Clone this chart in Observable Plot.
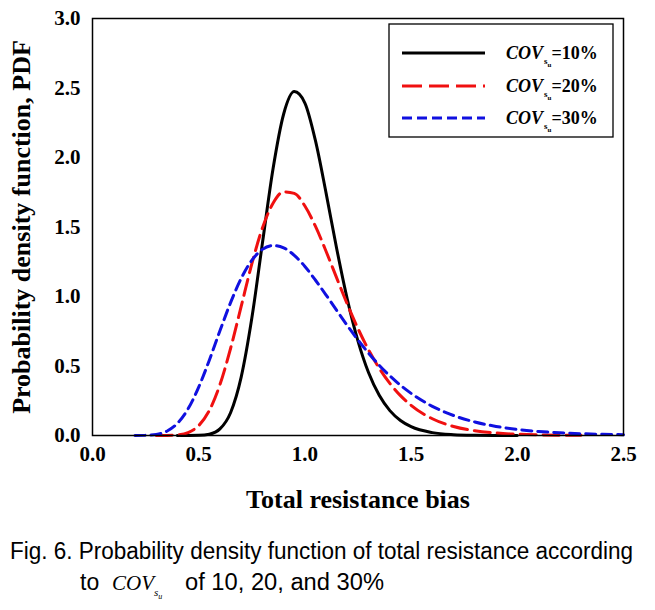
<!DOCTYPE html>
<html><head><meta charset="utf-8">
<script src="https://cdn.jsdelivr.net/npm/d3@7"></script>
<script src="https://cdn.jsdelivr.net/npm/@observablehq/plot@0.6"></script>
<style>
body{margin:0;background:#fff}
#chart svg, #cap{display:block}
</style>
</head><body>
<div id="chart"></div>
<svg id="cap" width="655" height="85"></svg>
<script>
const xTicks = [0, 0.5, 1.0, 1.5, 2.0, 2.5];
const yTicks = [0, 0.5, 1.0, 1.5, 2.0, 2.5, 3.0];
const seriesNames = ["=10%", "=20%", "=30%"];

const cov10X = [0.4,0.45,0.5,0.55,0.6,0.65,0.7,0.75,0.8,0.85,0.9,0.95,1.0,1.05,1.1,1.15,1.2,1.25,1.3,1.35,1.4,1.45,1.5,1.6,1.7,1.8,1.9,2.0];
const cov10Y = [0,0.0001,0.0012,0.0095,0.0475,0.164,0.420,0.843,1.384,1.919,2.313,2.474,2.392,2.119,1.742,1.342,0.978,0.679,0.451,0.289,0.179,0.108,0.0634,0.0205,0.0062,0.0018,0.0005,0.0001];

const cov20X = [0.3,0.35,0.4,0.45,0.5,0.55,0.6,0.65,0.7,0.75,0.8,0.85,0.9,0.95,1.0,1.05,1.1,1.15,1.2,1.25,1.3,1.35,1.4,1.45,1.5,1.6,1.7,1.8,1.9,2.0,2.1,2.2,2.3];
const cov20Y = [0,0.0006,0.0044,0.0214,0.0714,0.180,0.366,0.626,0.929,1.234,1.493,1.671,1.753,1.742,1.651,1.504,1.324,1.132,0.943,0.769,0.615,0.484,0.375,0.287,0.217,0.1206,0.0651,0.0344,0.0178,0.0091,0.0046,0.0023,0.0011];

const cov30X = [0.2,0.25,0.3,0.35,0.4,0.45,0.5,0.55,0.6,0.65,0.7,0.75,0.8,0.85,0.9,0.95,1.0,1.05,1.1,1.15,1.2,1.25,1.3,1.35,1.4,1.45,1.5,1.6,1.7,1.8,1.9,2.0,2.1,2.2,2.3,2.4,2.5];
const cov30Y = [0.0001,0.001,0.0074,0.0306,0.0877,0.192,0.348,0.542,0.753,0.956,1.130,1.260,1.339,1.367,1.350,1.296,1.216,1.117,1.010,0.899,0.790,0.687,0.592,0.505,0.429,0.361,0.303,0.210,0.1438,0.0973,0.0654,0.0437,0.0291,0.0194,0.0129,0.0085,0.0057];

const xTitle = "Total resistance bias";
const yTitle = "Probability density function, PDF";

const rows = (xs, ys) => xs.map((x, i) => ({x, y: ys[i]}));
const r10 = rows(cov10X, cov10Y), r20 = rows(cov20X, cov20Y), r30 = rows(cov30X, cov30Y);

const serif = "'Liberation Serif','Times New Roman',serif";
const fmt = d3.format(".1f");

const chart = Plot.plot({
  width: 655, height: 525,
  marginLeft: 92, marginRight: 32, marginTop: 18, marginBottom: 90,
  style: {fontFamily: serif, background: "#fff", color: "#000"},
  x: {domain: [0, 2.5], axis: null},
  y: {domain: [0, 3], axis: null},
  marks: [
    Plot.text(xTicks, {x: d => d, frameAnchor: "bottom", dy: 25, text: d => fmt(d), textAnchor: "middle", fontSize: 21, fontWeight: "bold", fill: "#000"}),
    Plot.text(yTicks, {y: d => d, frameAnchor: "left", dx: -12, text: d => fmt(d), textAnchor: "end", fontSize: 21, fontWeight: "bold", fill: "#000"}),
    Plot.line(r10, {x: "x", y: "y", stroke: "#000", strokeWidth: 3, curve: "monotone-x"}),
    Plot.line(r20, {x: "x", y: "y", stroke: "#f01010", strokeWidth: 3, strokeDasharray: "16,7", curve: "monotone-x"}),
    Plot.line(r30, {x: "x", y: "y", stroke: "#1010e0", strokeWidth: 3, strokeDasharray: "10,6", curve: "monotone-x"}),
    Plot.frame({stroke: "#000", strokeWidth: 1.5}),
    Plot.text([xTitle], {text: d => d, frameAnchor: "bottom", dy: 72, textAnchor: "middle", fontSize: 26, fontWeight: "bold", fill: "#000"}),
    Plot.text([yTitle], {text: d => d, frameAnchor: "left", dx: -71, rotate: -90, textAnchor: "middle", fontSize: 26, fontWeight: "bold", fill: "#000"})
  ]
});
document.getElementById("chart").appendChild(chart);

// legend
const svg = d3.select(chart);
const lg = svg.append("g").attr("text-anchor", "start");
lg.append("rect").attr("x", 389).attr("y", 24).attr("width", 224).attr("height", 113)
  .attr("fill", "#fff").attr("stroke", "#000").attr("stroke-width", 1.3);
const styles = [
  {stroke: "#000", dash: null},
  {stroke: "#f01010", dash: "20,7"},
  {stroke: "#1010e0", dash: "10,5"}
];
const rowsY = [53, 86, 118];
seriesNames.forEach((name, i) => {
  const y = rowsY[i];
  lg.append("line").attr("x1", 402).attr("x2", 485).attr("y1", y).attr("y2", y)
    .attr("stroke", styles[i].stroke).attr("stroke-width", 3)
    .attr("stroke-dasharray", styles[i].dash);
  const t = lg.append("text").attr("x", 506).attr("y", y + 6).attr("text-anchor", "start")
    .attr("font-family", serif).attr("font-weight", "bold").attr("font-size", 18).attr("fill", "#000");
  t.append("tspan").attr("font-style", "italic").text("COV");
  t.append("tspan").attr("font-size", 9).attr("dy", 5).attr("dx", 1).text("s");
  t.append("tspan").attr("font-size", 7).attr("dy", 3).text("u");
  t.append("tspan").attr("dy", -8).text(name);
});

// caption
const cap = d3.select("#cap");
const sans = "'Liberation Sans', Arial, sans-serif";
cap.append("text").attr("x", 10).attr("y", 34).attr("font-family", sans).attr("font-size", 23)
  .attr("textLength", 623).attr("lengthAdjust", "spacingAndGlyphs").attr("fill", "#000")
  .text("Fig. 6. Probability density function of total resistance according");
cap.append("text").attr("x", 80).attr("y", 65).attr("font-family", sans).attr("font-size", 23).attr("fill", "#000").text("to");
const ct = cap.append("text").attr("x", 112).attr("y", 65).attr("font-family", serif).attr("font-size", 21).attr("font-style", "italic").attr("fill", "#000");
ct.append("tspan").text("COV");
ct.append("tspan").attr("font-size", 11).attr("dy", 6).text("s");
ct.append("tspan").attr("font-size", 8).attr("dy", 3).text("u");
cap.append("text").attr("x", 185).attr("y", 65).attr("font-family", sans).attr("font-size", 23)
  .attr("textLength", 199).attr("lengthAdjust", "spacingAndGlyphs").attr("fill", "#000")
  .text("of 10, 20, and 30%");
</script>
</body></html>
